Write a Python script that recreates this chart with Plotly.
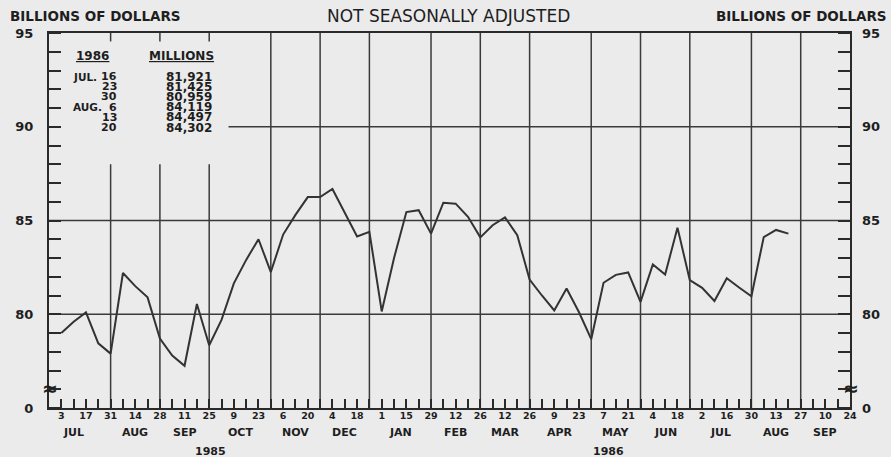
import plotly.graph_objects as go
import pandas as pd

# ---------------- data ----------------
series_start = "1985-07-03"          # first weekly (Wednesday) observation
values = [
    79.00, 79.60, 80.10, 78.45, 77.90, 82.20, 81.50, 80.90, 78.70, 77.80,
    77.25, 80.55, 78.35, 79.70, 81.65, 82.90, 84.00, 82.25, 84.25, 85.30,
    86.25, 86.25, 86.68, 85.40, 84.15, 84.40, 80.15, 83.00, 85.45, 85.55,
    84.30, 85.95, 85.90, 85.20, 84.10, 84.75, 85.17, 84.22, 81.85, 81.00,
    80.20, 81.37, 80.12, 78.67, 81.68, 82.10, 82.23, 80.66, 82.66, 82.12,
    84.62, 81.82, 81.41, 80.71, 81.921, 81.425, 80.959, 84.119, 84.497, 84.302,
]
dates = pd.date_range(series_start, periods=len(values), freq="7D")

axis_start = "1985-06-26"
axis_end = "1986-09-24"
tick_dates = pd.date_range("1985-07-03", axis_end, freq="7D")
tick_text = [str(d.day) if i % 2 == 0 else "" for i, d in enumerate(tick_dates)]

month_end_lines = ["1985-07-31", "1985-08-28", "1985-09-25", "1985-10-30", "1985-11-27",
                   "1985-12-25", "1986-01-29", "1986-02-26", "1986-03-26", "1986-04-30",
                   "1986-05-28", "1986-06-25", "1986-07-30", "1986-08-27"]
short_lines = ["1985-07-31", "1985-08-28", "1985-09-25"]   # interrupted by the inset table

month_labels = ["JUL", "AUG", "SEP", "OCT", "NOV", "DEC", "JAN", "FEB", "MAR",
                "APR", "MAY", "JUN", "JUL", "AUG", "SEP"]
month_label_dates = ["1985-07-10", "1985-08-14", "1985-09-11", "1985-10-12 12:00",
                     "1985-11-13", "1985-12-11", "1986-01-11 12:00", "1986-02-12",
                     "1986-03-12", "1986-04-12 12:00", "1986-05-14", "1986-06-11",
                     "1986-07-12 12:00", "1986-08-13", "1986-09-10"]
year_labels = ["1985", "1986"]
year_label_dates = ["1985-09-26", "1986-05-10"]

y_tick_vals = [75, 80, 85, 90, 95]
y_tick_text = ["0", "80", "85", "90", "95"]
grid_levels = [80, 85]
grid90_start = "1985-10-06"

table_month_text = ["JUL.", "", "", "AUG.", "", ""]
table_dates = dates[-6:]
table_values = values[-6:]

# ---------------- figure ----------------
W, H = 891, 457
L, R, T, B = 49, 41, 33, 49
PW, PH = W - L - R, H - T - B
INK = "#2a2a2a"
BG = "#ebebeb"
FONT = "DejaVu Sans"


def px(xp, yp):
    return (xp - L) / PW, (H - B - yp) / PH


fig = go.Figure()
fig.add_trace(go.Scatter(x=dates, y=values, mode="lines",
                         line=dict(color="#333333", width=2),
                         showlegend=False, hoverinfo="skip"))
fig.add_trace(go.Scatter(x=[dates[0]], y=[None], yaxis="y2",
                         showlegend=False, hoverinfo="skip"))

shapes = []
for lev in grid_levels:
    shapes.append(dict(type="line", xref="paper", yref="y", x0=0, x1=1, y0=lev, y1=lev,
                       line=dict(color="#3a3a3a", width=1.5), layer="below"))
shapes.append(dict(type="line", xref="x", yref="y", x0=grid90_start, x1=axis_end, y0=90, y1=90,
                   line=dict(color="#3a3a3a", width=1.5), layer="below"))
for d in month_end_lines:
    top = 88.0 if d in short_lines else 95
    shapes.append(dict(type="line", xref="x", yref="y", x0=d, x1=d, y0=75, y1=top,
                       line=dict(color="#3a3a3a", width=1.5), layer="below"))
    if d in short_lines:
        shapes.append(dict(type="line", xref="x", yref="y", x0=d, x1=d, y0=94.55, y1=95,
                           line=dict(color="#3a3a3a", width=1.5), layer="below"))

ann = []


def add_text(text, xp, yp, size, xanchor="center", bold=True, yanchor="middle"):
    x, y = px(xp, yp)
    ann.append(dict(text=text, x=x, y=y, xref="paper", yref="paper", showarrow=False,
                    xanchor=xanchor, yanchor=yanchor,
                    font=dict(family=FONT, size=size, color="#1e1e1e",
                              weight="bold" if bold else "normal")))


add_text("BILLIONS OF DOLLARS", 8, 16, 13.5, xanchor="left")
add_text("BILLIONS OF DOLLARS", 889, 16, 13.5, xanchor="right")
add_text("NOT SEASONALLY ADJUSTED", 448, 16, 17, bold=False)

# inset table
add_text("<u>1986</u>", 92, 56, 12)
add_text("<u>MILLIONS</u>", 181, 56, 12)
for i, (mt, d, v) in enumerate(zip(table_month_text, table_dates, table_values)):
    yp = 76.5 + i * 10.2
    if mt:
        add_text(mt, 71, yp, 10.5, xanchor="left")
    add_text(str(d.day), 119, yp, 11, xanchor="right")
    add_text(f"{v * 1000:,.0f}", 214, yp, 12, xanchor="right")

# axis break marks
add_text("≈", 50, 388, 19)
add_text("≈", 851, 388, 19)

# month / year labels under the axis
for m, d in zip(month_labels, month_label_dates):
    ann.append(dict(text=m, x=d, y=0, xref="x", yref="paper", yshift=-24, yanchor="middle",
                    showarrow=False,
                    font=dict(family=FONT, size=11, color="#1e1e1e", weight="bold")))
for yl, d in zip(year_labels, year_label_dates):
    ann.append(dict(text=yl, x=d, y=0, xref="x", yref="paper", yshift=-43, yanchor="middle",
                    showarrow=False,
                    font=dict(family=FONT, size=11, color="#1e1e1e", weight="bold")))

yaxis_common = dict(
    range=[75, 95], tickmode="array", tickvals=y_tick_vals, ticktext=y_tick_text,
    ticks="", showgrid=False, zeroline=False, fixedrange=True, automargin=False,
    minor=dict(tickmode="linear", tick0=75, dtick=1, ticks="inside", ticklen=12,
               tickcolor=INK, tickwidth=1.5, showgrid=False),
    ticklabelstandoff=11,
    tickfont=dict(family=FONT, size=13, color="#1e1e1e", weight="bold"),
)

fig.update_layout(
    width=W, height=H,
    margin=dict(l=L, r=R, t=T, b=B, pad=0, autoexpand=False),
    paper_bgcolor=BG, plot_bgcolor=BG,
    showlegend=False,
    shapes=shapes, annotations=ann,
    xaxis=dict(type="date", range=[axis_start, axis_end], tickmode="array",
               tickvals=list(tick_dates), ticktext=tick_text,
               ticks="inside", ticklen=9, tickwidth=1.5, tickcolor=INK,
               showgrid=False, zeroline=False, showline=True, linecolor=INK,
               linewidth=2, mirror=True, fixedrange=True, automargin=False,
               ticklabelstandoff=-2,
               tickfont=dict(family=FONT, size=9.5, color="#1e1e1e", weight="bold")),
    yaxis=dict(**yaxis_common, side="left", showline=True, linecolor=INK,
               linewidth=2, mirror=True),
    yaxis2=dict(**yaxis_common, side="right", overlaying="y", showline=False),
)

fig.write_html("out.html",
               config={"displayModeBar": False},
               post_script="document.body.style.margin='0';document.body.style.padding='0';"
                           "document.body.style.overflow='hidden';"
                           "document.body.style.background='%s';" % BG)
